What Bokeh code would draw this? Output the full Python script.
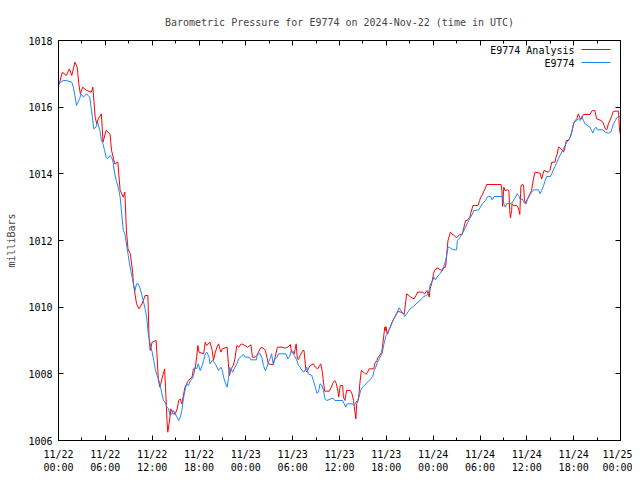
from bokeh.plotting import figure
from bokeh.models import FixedTicker, LinearAxis, Label, BoxAnnotation, Range1d
from bokeh.embed import file_html
from bokeh.resources import INLINE

# ---------------- data (hours since 2024-11-22 00:00 UTC, millibars) ----------------
analysis_hours = [
    0.0, 0.1, 0.5, 1.0, 1.4, 1.7, 2.1, 2.4, 2.6, 2.8,
    3.1, 3.6, 4.2, 4.4, 4.7, 4.9, 5.1, 5.5, 5.7, 6.1,
    6.6, 6.8, 7.2, 7.6, 7.9, 8.3, 8.5, 8.7, 8.9, 9.2,
    9.5, 9.6, 10.0, 10.3, 10.7, 11.1, 11.45, 11.6, 11.75, 12.0,
    12.5, 12.6, 12.8, 13.0, 13.3, 13.6, 13.75, 13.9, 14.0, 14.2,
    14.4, 14.7, 14.95, 15.2, 15.4, 15.6, 15.8, 16.2, 16.65, 17.1,
    17.3, 17.5, 17.7, 17.85, 18.0, 18.6, 18.8, 19.0, 19.4, 19.7,
    19.85, 20.1, 20.3, 20.5, 20.8, 21.0, 21.6, 21.8, 21.9, 22.1,
    22.4, 22.6, 22.85, 23.1, 23.4, 23.9, 24.2, 24.65, 24.85, 25.2,
    25.4, 25.9, 26.2, 26.5, 26.7, 26.9, 27.5, 27.75, 28.05, 28.6,
    29.05, 29.5, 29.7, 29.85, 30.2, 30.45, 30.6, 30.75, 30.95, 31.3,
    31.45, 31.7, 31.85, 32.0, 32.25, 32.65, 32.9, 33.2, 33.45, 33.6,
    33.8, 33.95, 34.1, 34.7, 34.95, 35.2, 35.4, 35.6, 35.8, 35.9,
    36.1, 36.4, 36.5, 36.7, 36.9, 37.4, 37.6, 37.8, 37.95, 38.1,
    38.2, 38.4, 38.5, 38.6, 38.8, 39.1, 39.4, 39.6, 39.8, 40.4,
    40.5, 40.8, 40.95, 41.2, 41.4, 41.5, 41.65, 41.8, 41.9, 41.95,
    42.1, 42.3, 42.5, 42.7, 42.9, 43.2, 43.4, 43.6, 43.85, 44.3,
    44.5, 44.6, 44.9, 45.1, 45.55, 45.8, 46.0, 46.6, 46.9, 47.2,
    47.5, 47.6, 47.8, 48.05, 48.15, 48.3, 48.5, 48.95, 49.2, 49.35,
    49.6, 49.7, 49.8, 49.9, 50.1, 50.2, 50.4, 50.7, 51.0, 51.4,
    51.7, 51.9, 52.15, 52.35, 52.7, 52.85, 53.1, 53.75, 53.95, 54.1,
    54.3, 54.5, 54.7, 54.85, 56.7, 56.8, 56.9, 57.05, 57.2, 57.5,
    57.7, 57.8, 57.9, 58.05, 58.1, 58.35, 58.7, 58.85, 59.0, 59.1,
    59.2, 59.25, 59.5, 59.6, 59.7, 59.85, 60.1, 60.4, 60.6, 60.85,
    61.05, 61.7, 61.9, 62.2, 62.75, 62.95, 63.2, 63.6, 63.75, 63.9,
    64.05, 64.25, 64.5, 64.7, 64.9, 65.05, 65.35, 65.55, 65.7, 65.9,
    66.05, 66.2, 66.4, 66.6, 66.85, 67.0, 67.25, 68.1, 68.3, 68.5,
    68.7, 68.95, 69.5, 69.75, 69.9, 70.05, 70.25, 70.45, 70.65, 70.85,
    71.1, 71.75, 71.85, 71.95,
]
analysis_mbar = [
    1016.65, 1016.70, 1017.05, 1016.95, 1017.15, 1016.95, 1017.35, 1017.20, 1016.70, 1016.40,
    1016.60, 1016.50, 1016.45, 1016.60, 1015.70, 1015.50, 1015.65, 1015.80, 1014.95, 1015.30,
    1015.20, 1014.70, 1014.30, 1014.35, 1013.50, 1013.30, 1013.45, 1012.30, 1011.75, 1011.60,
    1011.05, 1010.70, 1010.10, 1009.95, 1010.10, 1010.35, 1010.35, 1009.10, 1008.70, 1008.95,
    1009.00, 1008.65, 1007.80, 1007.60, 1007.90, 1008.15, 1007.40, 1006.60, 1006.25, 1006.55,
    1006.95, 1006.80, 1006.80, 1006.95, 1007.20, 1007.25, 1007.10, 1007.60, 1007.80, 1007.90,
    1008.15, 1008.15, 1008.50, 1008.85, 1008.65, 1008.60, 1008.95, 1008.85, 1008.95, 1008.70,
    1008.40, 1008.65, 1008.80, 1008.90, 1008.65, 1008.75, 1008.80, 1008.20, 1007.95, 1008.15,
    1008.25, 1008.45, 1008.85, 1008.80, 1008.90, 1008.85, 1008.80, 1008.87, 1008.50, 1008.50,
    1008.55, 1008.78, 1008.78, 1008.70, 1008.50, 1008.30, 1008.27, 1008.50, 1008.80, 1008.80,
    1008.77, 1008.82, 1008.88, 1008.65, 1008.60, 1008.90, 1008.45, 1008.43, 1008.55, 1008.70,
    1008.70, 1008.10, 1008.05, 1008.15, 1008.25, 1008.30, 1008.20, 1008.15, 1008.25, 1008.30,
    1008.05, 1007.75, 1007.48, 1007.48, 1007.60, 1007.75, 1007.80, 1007.70, 1007.48, 1007.30,
    1007.65, 1007.65, 1007.30, 1007.20, 1007.50, 1007.50, 1007.40, 1007.20, 1006.90, 1006.65,
    1007.10, 1007.20, 1007.40, 1007.70, 1008.10, 1008.05, 1007.98, 1008.05, 1008.15, 1008.15,
    1008.30, 1008.40, 1008.50, 1008.57, 1008.65, 1008.80, 1009.10, 1009.40, 1009.30, 1009.42,
    1009.20, 1009.30, 1009.40, 1009.53, 1009.62, 1009.75, 1009.85, 1009.87, 1009.85, 1009.80,
    1010.20, 1010.40, 1010.35, 1010.30, 1010.25, 1010.35, 1010.45, 1010.45, 1010.40, 1010.50,
    1010.30, 1010.55, 1010.70, 1011.00, 1011.10, 1011.12, 1011.18, 1011.12, 1011.10, 1011.20,
    1011.20, 1011.50, 1011.75, 1012.00, 1012.15, 1012.25, 1012.20, 1012.15, 1012.08, 1012.18,
    1012.18, 1012.35, 1012.60, 1012.60, 1012.70, 1012.85, 1013.05, 1013.05, 1013.20, 1013.30,
    1013.37, 1013.48, 1013.58, 1013.68, 1013.68, 1013.50, 1013.02, 1013.60, 1013.50, 1013.52,
    1013.50, 1012.90, 1012.68, 1012.90, 1013.10, 1013.05, 1013.05, 1013.00, 1012.90, 1012.78,
    1013.40, 1013.65, 1013.68, 1013.60, 1013.20, 1013.12, 1013.25, 1013.40, 1013.50, 1013.85,
    1014.05, 1014.02, 1013.85, 1014.10, 1014.05, 1014.10, 1014.35, 1014.35, 1014.50, 1014.60,
    1014.80, 1014.78, 1014.72, 1014.65, 1014.80, 1015.00, 1015.00, 1015.10, 1015.20, 1015.40,
    1015.55, 1015.60, 1015.65, 1015.80, 1015.65, 1015.65, 1015.78, 1015.78, 1015.88, 1015.90,
    1015.90, 1015.65, 1015.60, 1015.55, 1015.45, 1015.35, 1015.32, 1015.50, 1015.60, 1015.72,
    1015.88, 1015.88, 1015.40, 1015.20,
]

station_hours = [
    0.0, 0.6, 1.0, 1.7, 1.9, 2.1, 2.3, 2.5, 2.7, 2.9,
    3.2, 3.6, 3.8, 4.0, 4.2, 4.35, 4.5, 4.8, 5.0, 5.3,
    5.5, 5.7, 5.9, 6.1, 6.3, 6.6, 6.8, 7.0, 7.2, 7.4,
    7.65, 7.9, 8.1, 8.3, 8.5, 8.7, 8.9, 9.1, 9.35, 9.6,
    9.8, 10.0, 10.2, 10.4, 10.75, 11.05, 11.3, 11.5, 11.75, 12.0,
    12.2, 12.4, 12.6, 12.8, 13.0, 13.2, 13.45, 13.65, 13.9, 14.1,
    14.3, 14.5, 14.7, 14.95, 15.2, 15.4, 15.6, 15.8, 16.0, 16.2,
    16.4, 16.65, 16.9, 17.1, 17.3, 17.5, 17.7, 17.9, 18.15, 18.4,
    18.6, 18.8, 19.0, 19.3, 19.4, 19.7, 20.1, 20.5, 20.8, 21.0,
    21.15, 21.35, 21.6, 21.8, 21.9, 22.1, 22.3, 22.5, 22.85, 23.1,
    23.5, 23.7, 23.9, 24.45, 24.65, 25.35, 25.5, 25.85, 26.1, 26.25,
    26.5, 26.7, 26.9, 27.1, 27.3, 27.5, 27.75, 28.0, 28.2, 29.15,
    29.4, 29.6, 29.8, 30.05, 30.2, 30.5, 30.75, 30.95, 31.2, 31.45,
    31.8, 32.0, 32.45, 32.65, 32.9, 33.1, 33.3, 33.5, 33.75, 33.95,
    34.15, 34.4, 34.9, 35.2, 35.4, 36.4, 36.6, 36.8, 37.0, 37.6,
    37.9, 38.1, 38.3, 38.5, 38.7, 38.95, 39.15, 39.4, 39.6, 39.8,
    40.0, 40.25, 40.45, 40.65, 40.85, 41.1, 41.3, 41.5, 41.65, 41.8,
    41.95, 42.2, 42.35, 42.6, 42.8, 43.0, 43.2, 43.4, 43.65, 44.0,
    44.2, 44.35, 44.6, 44.9, 45.2, 45.5, 45.8, 46.2, 46.5, 46.8,
    47.1, 47.35, 47.5, 47.6, 47.8, 47.95, 48.1, 48.3, 48.5, 48.75,
    48.95, 49.15, 49.35, 49.6, 49.7, 49.8, 49.9, 50.1, 50.3, 50.65,
    51.0, 51.1, 51.3, 51.5, 51.7, 51.95, 52.15, 52.35, 52.55, 52.8,
    53.0, 53.2, 53.85, 54.05, 54.3, 54.7, 54.9, 55.1, 55.35, 55.55,
    55.8, 56.95, 57.05, 57.25, 57.4, 58.1, 58.35, 58.55, 58.75, 59.0,
    59.2, 59.4, 59.7, 59.9, 60.1, 60.35, 60.6, 60.85, 61.5, 61.7,
    61.9, 62.15, 62.35, 62.55, 63.0, 63.2, 63.4, 63.6, 63.85, 64.05,
    64.25, 64.5, 64.7, 64.9, 65.1, 65.35, 65.55, 65.75, 65.9, 66.05,
    66.4, 66.6, 66.85, 67.05, 67.25, 67.45, 68.1, 68.3, 68.45, 68.6,
    68.85, 69.05, 69.8, 70.0, 70.45, 70.75, 70.9, 71.1, 71.35, 71.5,
    71.75, 71.95,
]
station_mbar = [
    1016.70, 1016.80, 1016.80, 1016.75, 1016.60, 1016.35, 1016.05, 1016.15, 1016.25, 1016.40,
    1016.30, 1016.40, 1016.35, 1016.30, 1015.95, 1015.70, 1015.35, 1015.40, 1015.55, 1015.30,
    1015.00, 1014.90, 1014.70, 1014.50, 1014.45, 1014.55, 1014.50, 1014.35, 1014.00, 1013.80,
    1013.60, 1013.30, 1012.80, 1012.30, 1012.20, 1011.90, 1011.60, 1011.30, 1011.00, 1010.70,
    1010.50, 1010.70, 1010.70, 1010.60, 1010.30, 1010.00, 1009.70, 1009.20, 1008.90, 1008.65,
    1008.40, 1008.15, 1007.95, 1007.85, 1007.70, 1007.45, 1007.20, 1007.15, 1007.00, 1006.95,
    1006.75, 1006.80, 1006.90, 1006.80, 1006.70, 1006.60, 1006.70, 1006.90, 1007.25, 1007.50,
    1007.70, 1007.65, 1007.80, 1007.85, 1007.95, 1008.20, 1008.15, 1008.30, 1008.10, 1008.25,
    1008.40, 1008.60, 1008.65, 1008.50, 1008.30, 1008.40, 1008.30, 1008.10, 1008.20, 1008.10,
    1007.90, 1007.75, 1007.60, 1007.90, 1008.20, 1008.15, 1008.05, 1008.15, 1008.30, 1008.45,
    1008.55, 1008.58, 1008.50, 1008.50, 1008.42, 1008.42, 1008.60, 1008.60, 1008.45, 1008.25,
    1008.10, 1008.20, 1008.35, 1008.45, 1008.60, 1008.30, 1008.45, 1008.50, 1008.60, 1008.60,
    1008.45, 1008.52, 1008.68, 1008.68, 1008.55, 1008.42, 1008.25, 1008.20, 1008.10, 1008.05,
    1008.20, 1008.00, 1007.95, 1007.80, 1007.60, 1007.42, 1007.45, 1007.70, 1007.65, 1007.50,
    1007.25, 1007.20, 1007.25, 1007.27, 1007.20, 1007.20, 1007.10, 1007.00, 1007.10, 1007.10,
    1007.05, 1007.15, 1007.20, 1007.30, 1007.50, 1007.60, 1007.65, 1007.70, 1007.75, 1007.80,
    1007.85, 1007.92, 1008.10, 1008.20, 1008.35, 1008.45, 1008.55, 1008.65, 1008.85, 1009.00,
    1009.15, 1009.20, 1009.32, 1009.45, 1009.58, 1009.68, 1009.75, 1009.85, 1009.98, 1009.85,
    1009.80, 1009.72, 1009.80, 1009.90, 1009.98, 1010.02, 1010.10, 1010.17, 1010.25, 1010.32,
    1010.35, 1010.40, 1010.52, 1010.65, 1010.75, 1010.80, 1010.90, 1010.82, 1010.90, 1010.98,
    1011.02, 1011.12, 1011.22, 1011.40, 1011.50, 1011.65, 1011.80, 1011.80, 1011.75, 1011.72,
    1011.72, 1012.00, 1012.05, 1012.12, 1012.20, 1012.30, 1012.40, 1012.50, 1012.60, 1012.70,
    1012.78, 1012.90, 1012.92, 1013.00, 1013.10, 1013.20, 1013.30, 1013.32, 1013.32, 1013.22,
    1013.32, 1013.32, 1013.10, 1013.00, 1013.10, 1013.12, 1013.22, 1013.30, 1013.40, 1013.32,
    1013.22, 1013.25, 1013.12, 1013.10, 1013.25, 1013.35, 1013.45, 1013.52, 1013.52, 1013.40,
    1013.50, 1013.65, 1013.80, 1013.92, 1013.92, 1014.00, 1014.12, 1014.22, 1014.35, 1014.45,
    1014.55, 1014.65, 1014.75, 1014.85, 1014.95, 1015.00, 1015.10, 1015.25, 1015.42, 1015.55,
    1015.60, 1015.65, 1015.60, 1015.72, 1015.60, 1015.50, 1015.40, 1015.30, 1015.22, 1015.32,
    1015.40, 1015.32, 1015.32, 1015.25, 1015.22, 1015.25, 1015.35, 1015.50, 1015.60, 1015.68,
    1015.72, 1015.72,
]

series_names = ["E9774 Analysis", "E9774"]
series_colors = ["#ff0000", "#1c86ff"]

tick_hours = [0, 6, 12, 18, 24, 30, 36, 42, 48, 54, 60, 66, 72]
tick_labels = ["11/22\n00:00", "11/22\n06:00", "11/22\n12:00", "11/22\n18:00",
               "11/23\n00:00", "11/23\n06:00", "11/23\n12:00", "11/23\n18:00",
               "11/24\n00:00", "11/24\n06:00", "11/24\n12:00", "11/24\n18:00",
               "11/25\n00:00"]
minor_hours = [3, 9, 15, 21, 27, 33, 39, 45, 51, 57, 63, 69]
pressure_ticks = [1006, 1008, 1010, 1012, 1014, 1016, 1018]

title_text = "Barometric Pressure for E9774 on 2024-Nov-22 (time in UTC)"
y_label = "milliBars"

assert len(analysis_hours) == len(analysis_mbar)
assert len(station_hours) == len(station_mbar)

FONT = "DejaVu Sans Mono"
FS = "10px"

p = figure(frame_width=562, frame_height=400,
           x_range=Range1d(0, 72), y_range=Range1d(1006, 1018),
           output_backend="svg", toolbar_location=None,
           min_border_left=58, min_border_right=12,
           min_border_top=40, min_border_bottom=30,
           title=title_text)
p.background_fill_color = "white"
p.border_fill_color = "white"
p.outline_line_color = "black"
p.outline_line_width = 1
p.grid.visible = False

p.title.text_font = FONT
p.title.text_font_size = FS
p.title.text_font_style = "normal"
p.title.align = "center"
p.title.standoff = 26

def style_axis(ax):
    ax.axis_line_color = "black"
    ax.major_tick_in = 5
    ax.major_tick_out = 0
    ax.minor_tick_in = 3
    ax.minor_tick_out = 0
    ax.major_tick_line_color = "black"
    ax.minor_tick_line_color = "black"
    ax.major_label_text_font = FONT
    ax.major_label_text_font_size = FS
    ax.major_label_text_color = "black"

xa = p.xaxis[0]
style_axis(xa)
xa.ticker = FixedTicker(ticks=tick_hours, minor_ticks=minor_hours)
xa.major_label_overrides = {h: lab for h, lab in zip(tick_hours, tick_labels)}
xa.major_label_standoff = 8
xa.major_label_text_line_height = 1.2

ya = p.yaxis[0]
style_axis(ya)
ya.ticker = FixedTicker(ticks=pressure_ticks, minor_ticks=[])
ya.major_label_standoff = 6
ya.axis_label = y_label
ya.axis_label_text_font = FONT
ya.axis_label_text_font_size = FS
ya.axis_label_text_font_style = "normal"
ya.axis_label_standoff = 8

top = LinearAxis(ticker=FixedTicker(ticks=tick_hours, minor_ticks=minor_hours),
                 major_label_overrides={h: "" for h in tick_hours})
style_axis(top)
top.major_label_standoff = 0
p.add_layout(top, "above")

right = LinearAxis(ticker=FixedTicker(ticks=pressure_ticks, minor_ticks=[]),
                   major_label_overrides={t: "" for t in pressure_ticks})
style_axis(right)
right.major_label_standoff = 0
p.add_layout(right, "right")

p.line(analysis_hours, analysis_mbar, line_color=series_colors[0], line_width=1)
p.line(station_hours, station_mbar, line_color=series_colors[1], line_width=1)

# gnuplot-style key: text right-aligned, sample line to its right
for i, (name, col) in enumerate(zip(series_names, series_colors)):
    yk = 390 - 13 * i
    p.add_layout(Label(x=516, y=yk, x_units="screen", y_units="screen", text=name,
                       text_align="right", text_baseline="middle",
                       text_font=FONT, text_font_size=FS, text_color="black"))
    p.add_layout(BoxAnnotation(left=523, right=552, bottom=yk + 0.5, top=yk + 1.5,
                               left_units="screen", right_units="screen",
                               bottom_units="screen", top_units="screen",
                               fill_color=col, fill_alpha=1.0,
                               line_color=None))

open("out.html", "w").write(file_html(p, INLINE))
